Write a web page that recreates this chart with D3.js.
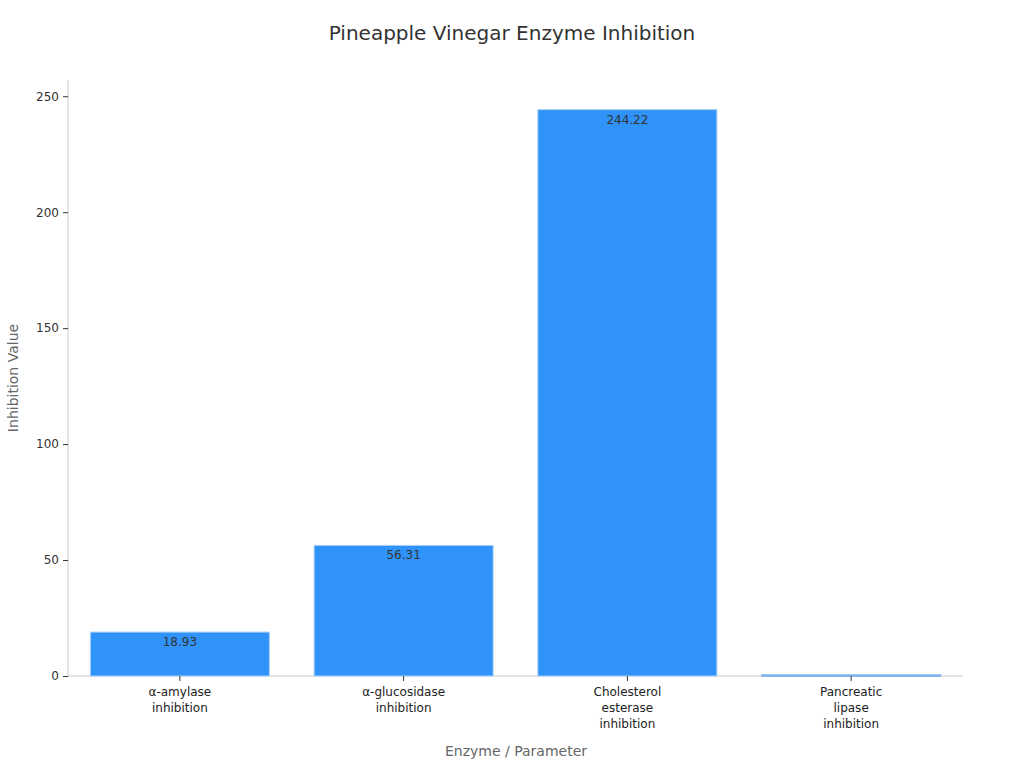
<!DOCTYPE html><html><head><meta charset="utf-8"><script src="https://cdn.jsdelivr.net/npm/d3@7"></script>
<style>body{margin:0;background:#fff;font-family:"DejaVu Sans",sans-serif}</style></head><body><svg id="c" width="1024" height="768"></svg>
<script>
const categories=[["α-amylase","inhibition"],["α-glucosidase","inhibition"],["Cholesterol","esterase","inhibition"],["Pancreatic","lipase","inhibition"]];
const values=[18.93,56.31,244.22,0.5];
const labels=["18.93","56.31","244.22",""];
const yTicks=[0,50,100,150,200,250];
const svg=d3.select("#c");
const L=68,R=963,T=80,B=676;
const x=d3.scaleBand().domain(d3.range(4)).range([L,R]).paddingInner(0.2).paddingOuter(0.1);
const y=d3.scaleLinear().domain([0,257]).range([B,T]);
svg.append("text").attr("x",512).attr("y",40).attr("text-anchor","middle").attr("font-size",20).attr("fill","#333").text("Pineapple Vinegar Enzyme Inhibition");
const ya=svg.append("g").attr("transform",`translate(${L},0)`).call(d3.axisLeft(y).tickValues(yTicks).tickSize(5).tickPadding(4));
ya.select(".domain").attr("stroke","#ccc").attr("d",`M0,${T}V${B}`);
ya.selectAll(".tick line").attr("stroke","#333");
ya.selectAll("text").attr("font-size",12).attr("fill","#333").attr("font-family","DejaVu Sans");
svg.append("line").attr("x1",L).attr("x2",R).attr("y1",B).attr("y2",B).attr("stroke","#ccc");
svg.selectAll(".b").data(values).join("rect").attr("x",(d,i)=>x(i)).attr("width",x.bandwidth())
 .attr("y",d=>y(d)).attr("height",d=>Math.max(1.5,B-y(d))).attr("fill",(d,i)=>i==3?"#7fb2ee":"#2f93f9").attr("stroke",(d,i)=>i==3?"#7fb2ee":"#a9cff5").attr("stroke-width",1);
svg.selectAll(".v").data(values).join("text").attr("x",(d,i)=>x(i)+x.bandwidth()/2).attr("y",d=>y(d)+14).attr("text-anchor","middle").attr("font-size",12).attr("fill","#333").text((d,i)=>labels[i]);
categories.forEach((c,i)=>{const cx=x(i)+x.bandwidth()/2;
 svg.append("line").attr("x1",cx).attr("x2",cx).attr("y1",B).attr("y2",B+5).attr("stroke","#333");
 const t=svg.append("text").attr("x",cx).attr("y",B+20).attr("text-anchor","middle").attr("font-size",12).attr("fill","#222");
 c.forEach((s,j)=>t.append("tspan").attr("x",cx).attr("dy",j?16:0).text(s));});
svg.append("text").attr("x",516).attr("y",756).attr("text-anchor","middle").attr("font-size",14).attr("fill","#666").text("Enzyme / Parameter");
svg.append("text").attr("transform","translate(18,378) rotate(-90)").attr("text-anchor","middle").attr("font-size",14).attr("fill","#666").text("Inhibition Value");
</script></body></html>
